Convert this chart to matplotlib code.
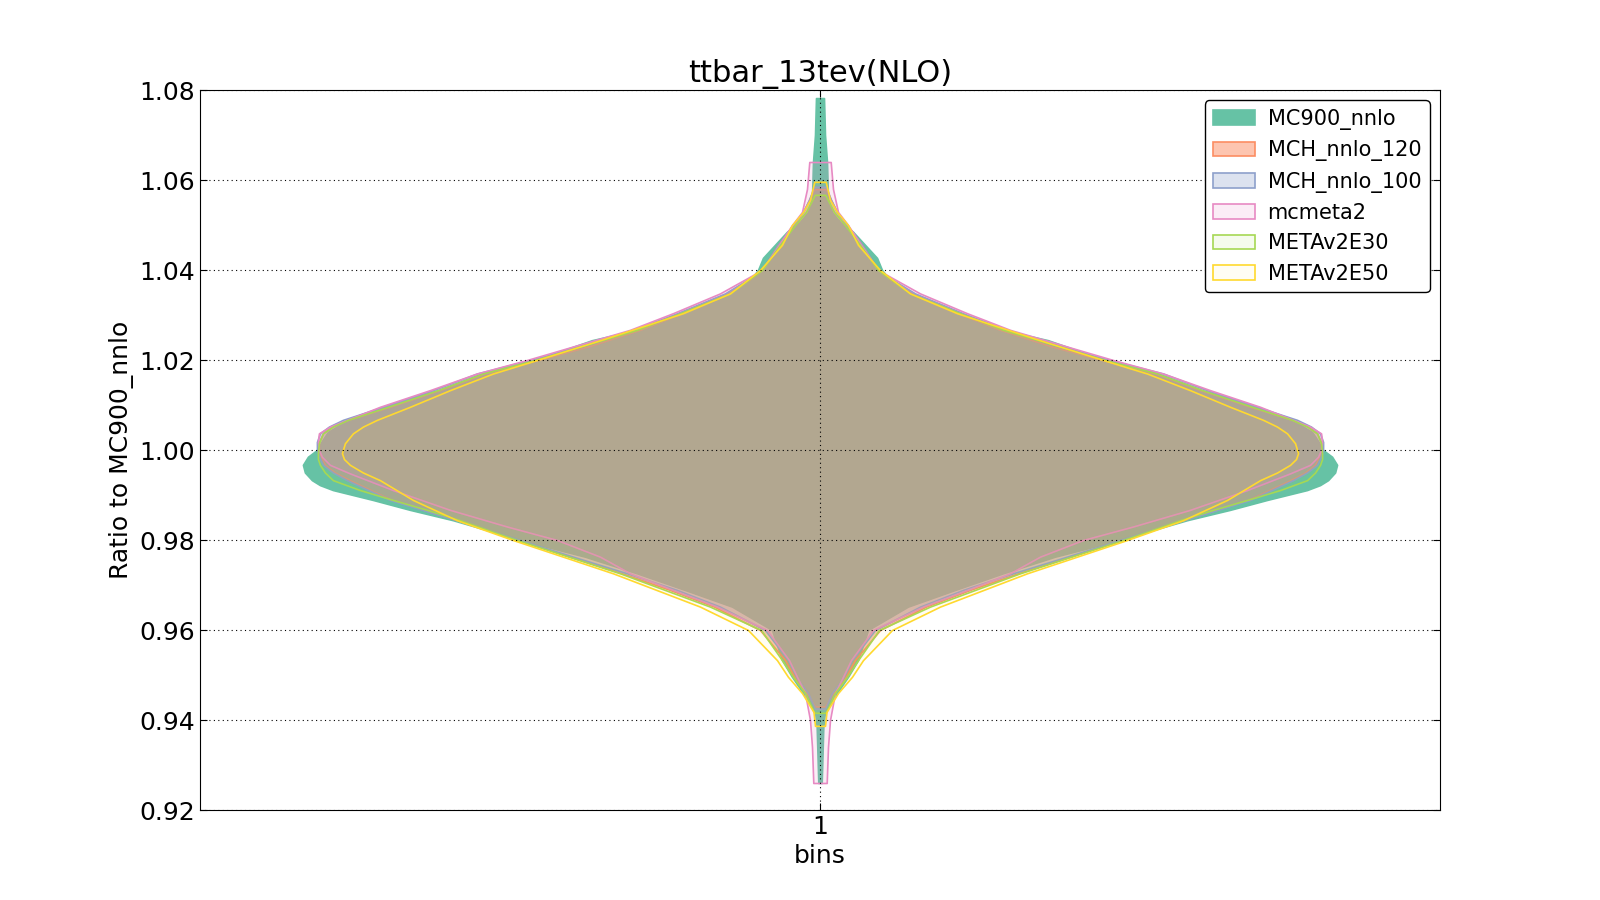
import matplotlib
matplotlib.use('Agg')
from matplotlib import pyplot as plt
from matplotlib.ticker import FormatStrFormatter
import numpy as np

# density profiles, per series: y values and relative density
labels = ['MC900_nnlo', 'MCH_nnlo_120', 'MCH_nnlo_100', 'mcmeta2', 'METAv2E30', 'METAv2E50']

y_mc900 = [0.926, 0.9384, 0.9418, 0.946, 0.9496, 0.9533, 0.96, 0.9652, 0.9689, 0.9726, 0.9763,
           0.98, 0.9822, 0.9844, 0.9867, 0.9889, 0.9911, 0.9922, 0.9933, 0.9950, 0.9967, 0.9985,
           1.000, 1.002, 1.004, 1.007, 1.010, 1.0133, 1.017, 1.020, 1.0244, 1.0267, 1.0304,
           1.0348, 1.0378, 1.040, 1.0427, 1.0456, 1.0485, 1.0507, 1.0529, 1.056, 1.064, 1.070,
           1.0782]
d_mc900 = [1.7, 3.3, 5, 17, 28, 38, 48, 88, 135, 183, 235,
           300, 333, 367, 410, 447, 487, 500, 508, 515, 517, 512,
           503, 498, 492, 470, 432, 382, 338, 285, 228, 183, 140,
           92, 70, 62, 57, 45, 33, 20, 12, 8, 7, 5,
           4]

y_mch120 = [0.943, 0.946, 0.9489, 0.9533, 0.96, 0.9652, 0.9689, 0.9726, 0.9763, 0.98, 0.9844,
            0.9889, 0.9933, 0.995, 0.9967, 0.9985, 1.000, 1.0018, 1.0037, 1.0052, 1.0067, 1.0096,
            1.0133, 1.017, 1.020, 1.023, 1.0267, 1.0304, 1.0348, 1.0378, 1.040, 1.0456, 1.050,
            1.0529, 1.0556, 1.058]
d_mch120 = [5, 13, 24, 35, 60, 106, 150, 198, 250, 302, 363,
            428, 470, 485, 495, 499, 501, 501, 497, 488, 472, 430,
            380, 335, 282, 232, 180, 138, 92, 71, 58, 42, 27,
            17, 11, 6]

y_mch100 = [0.9425, 0.946, 0.9489, 0.9533, 0.96, 0.9652, 0.9689, 0.9726, 0.9763, 0.98, 0.9844,
            0.9889, 0.9933, 0.995, 0.9967, 0.9985, 1.000, 1.0018, 1.0037, 1.0052, 1.0067, 1.0096,
            1.0133, 1.017, 1.020, 1.023, 1.0267, 1.0304, 1.0348, 1.0378, 1.040, 1.0456, 1.050,
            1.0529, 1.0556, 1.0585]
d_mch100 = [5, 12, 22, 32, 55, 100, 143, 193, 247, 300, 363,
            430, 473, 487, 497, 501, 503, 503, 500, 491, 477, 437,
            387, 343, 290, 240, 187, 143, 95, 73, 58, 42, 27,
            17, 11, 6]

y_meta2 = [0.926, 0.934, 0.940, 0.946, 0.9496, 0.9533, 0.96, 0.9652, 0.9689, 0.9726, 0.9763,
           0.98, 0.983, 0.9867, 0.9911, 0.9948, 0.9967, 0.9985, 1.000, 1.0018, 1.0037, 1.0052,
           1.0067, 1.0096, 1.0133, 1.017, 1.020, 1.0267, 1.0304, 1.0348, 1.040, 1.0456, 1.050,
           1.0529, 1.058, 1.064]
d_meta2 = [6.7, 8, 10, 15, 23, 31, 53, 103, 147, 190, 220,
           263, 313, 370, 427, 470, 490, 498, 501, 502, 501, 490,
           473, 440, 390, 343, 293, 190, 147, 100, 58, 41, 28,
           18, 13, 10.7]

y_e30 = [0.9416, 0.946, 0.9496, 0.9533, 0.96, 0.9652, 0.9726, 0.98, 0.9844, 0.9867, 0.9889,
         0.9911, 0.9933, 0.995, 0.9967, 0.998, 0.9993, 1.0015, 1.0037, 1.0052, 1.0067, 1.0096,
         1.0133, 1.017, 1.020, 1.0267, 1.0304, 1.0348, 1.040, 1.0456, 1.050, 1.0529, 1.0567]
d_e30 = [5.7, 15, 27, 38, 59, 110, 200, 303, 360, 393, 427,
         460, 487, 495, 500, 502, 502, 501, 497, 487, 472, 432,
         382, 337, 285, 183, 140, 90, 58, 40, 25, 14, 5.3]

y_e50 = [0.9387, 0.9418, 0.946, 0.9496, 0.9533, 0.96, 0.9652, 0.9726, 0.98, 0.9844, 0.9889,
         0.9933, 0.995, 0.9967, 0.998, 0.9993, 1.0015, 1.0037, 1.0052, 1.0067, 1.0096, 1.0133,
         1.017, 1.020, 1.0244, 1.0304, 1.0348, 1.040, 1.0456, 1.050, 1.0529, 1.0556, 1.0596]
d_e50 = [5, 6.5, 18, 32, 43, 72, 120, 207, 307, 363, 407,
         440, 457, 470, 476, 478, 475, 467, 457, 443, 410, 370,
         327, 283, 220, 137, 90, 60, 38, 28, 17, 10, 5.7]

ys = [y_mc900, y_mch120, y_mch100, y_meta2, y_e30, y_e50]
ds = [d_mc900, d_mch120, d_mch100, d_meta2, d_e30, d_e50]

colors = ['#66c2a5', '#fc8d62', '#8da0cb', '#e78ac3', '#a6d854', '#ffd92f']
alphas = [1.0, 0.5, 0.3, 0.15, 0.1, 0.05]

fig = plt.figure(figsize=(16, 9), dpi=100)
ax = fig.add_axes([0.125, 0.1, 0.775, 0.8])

# common scale: widest violin gets half-width 0.417
scale = 0.417 / max(max(d) for d in ds)
pos = 1
for y, d, c, a, lab in zip(ys, ds, colors, alphas, labels):
    w = np.array(d) * scale
    fc = matplotlib.colors.to_rgba(c, a)
    ax.fill_betweenx(y, pos - w, pos + w, facecolor=fc, edgecolor=c,
                     linewidth=1.2, joinstyle='round', label=lab)

ax.set_xlim(0.5, 1.5)
ax.set_ylim(0.92, 1.08)
ax.set_xticks([1])
ax.set_yticks(np.arange(0.92, 1.081, 0.02))
ax.yaxis.set_major_formatter(FormatStrFormatter('%.2f'))
ax.grid(True, color='black', linestyle=(0, (1, 3)), linewidth=0.8)
ax.set_axisbelow(False)
ax.tick_params(direction='in', top=True, right=True, length=5, labelsize=18)
ax.set_title('ttbar_13tev(NLO)', fontsize=22)
ax.set_ylabel('Ratio to MC900_nnlo', fontsize=18)
ax.set_xlabel('bins', fontsize=18)
leg = ax.legend(loc='upper right', fontsize=15, fancybox=True, framealpha=1,
                edgecolor='black', borderaxespad=0.5, handlelength=2.0,
                handletextpad=0.6)
leg.get_frame().set_linewidth(1)

plt.savefig('out.png')
